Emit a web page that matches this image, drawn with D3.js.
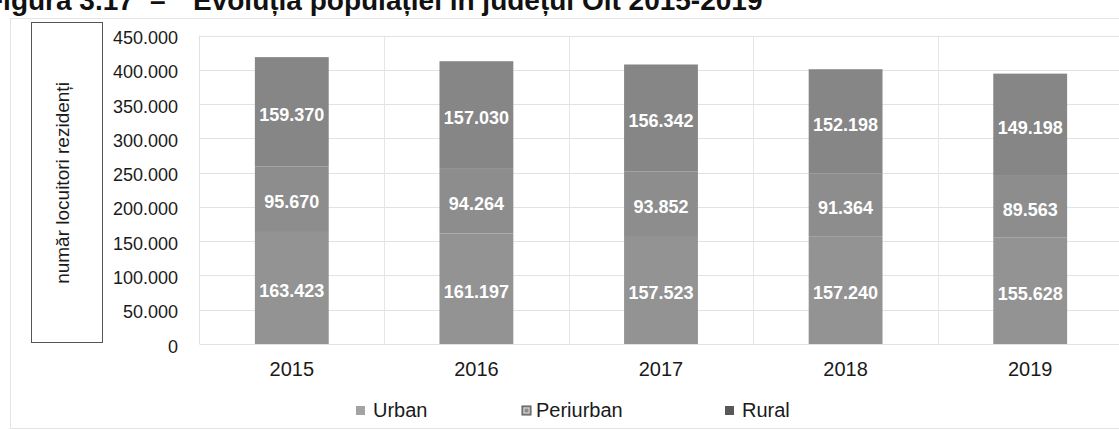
<!DOCTYPE html>
<html><head><meta charset="utf-8">
<script src="https://cdn.jsdelivr.net/npm/d3@7/dist/d3.min.js"></script>
<style>
html,body{margin:0;padding:0;background:#fff;}
svg{display:block;font-family:Arial,"Liberation Sans",sans-serif;}
</style></head>
<body>
<svg id="chart" width="1119" height="430"></svg>
<script>
const years = ["2015","2016","2017","2018","2019"];
const urban = [163423, 161197, 157523, 157240, 155628];
const periurban = [95670, 94264, 93852, 91364, 89563];
const rural = [159370, 157030, 156342, 152198, 149198];
const seriesNames = ["Urban","Periurban","Rural"];
const yTicks = [0,50000,100000,150000,200000,250000,300000,350000,400000,450000];

const svg = d3.select("#chart");
const W = 1119, H = 430;
const loc = d3.formatLocale({decimal:",", thousands:".", grouping:[3], currency:["",""]});
const fmt = loc.format(",");

const plotL = 199.5, plotR = 1122.5, y0 = 344, yTop = 35.5;
const x = d3.scaleBand().domain(years).range([plotL, plotR]).paddingInner(0.6).paddingOuter(0.3);
const y = d3.scaleLinear().domain([0,450000]).range([y0, yTop]);

// outer faint frame
svg.append("rect").attr("x",10.5).attr("y",18.5).attr("width",W).attr("height",410)
  .attr("fill","none").attr("stroke","#e4e4e4");

// title (partially cut at top, as in the scanned reference)
const title = svg.append("g").attr("font-weight","bold").attr("font-size",28).attr("fill","#111");
title.append("text").attr("x",-14).attr("y",10).text("Figura 3.17");
title.append("text").attr("x",150).attr("y",10).text("–");
title.append("text").attr("x",193).attr("y",10).text("Evoluția populației în județul Olt 2015-2019");

// gridlines
const grid = svg.append("g");
grid.selectAll("line.h").data(yTicks).join("line")
  .attr("x1",plotL).attr("x2",W).attr("y1",d=>Math.round(y(d))+0.5).attr("y2",d=>Math.round(y(d))+0.5)
  .attr("stroke","#e2e2e2");
const step = x.step();
grid.selectAll("line.v").data(years.slice(1)).join("line")
  .attr("x1",d=>Math.round(x(d)+x.bandwidth()/2-step/2)+0.5)
  .attr("x2",d=>Math.round(x(d)+x.bandwidth()/2-step/2)+0.5)
  .attr("y1",yTop).attr("y2",y0).attr("stroke","#e6e6e6");
grid.append("line").attr("x1",plotL).attr("x2",plotL).attr("y1",yTop).attr("y2",y0).attr("stroke","#e2e2e2");

// y axis labels
const yAxis = d3.axisLeft(y).tickValues(yTicks).tickFormat(fmt).tickSize(0).tickPadding(0);
const ya = svg.append("g").attr("transform","translate(178,0)").call(yAxis);
ya.select(".domain").remove();
ya.selectAll("text").attr("font-size",18).attr("fill","#1a1a1a").attr("font-family","Arial,'Liberation Sans',sans-serif").attr("dy","0.45em");

// x axis labels
const xAxis = d3.axisBottom(x).tickSize(0).tickPadding(0);
const xa = svg.append("g").attr("transform",`translate(0,${y0})`).call(xAxis);
xa.select(".domain").remove();
xa.selectAll("text").attr("font-size",20).attr("fill","#1a1a1a").attr("font-family","Arial,'Liberation Sans',sans-serif").attr("dy","1.6em");

// stacked bars
const rows = years.map((yr,i)=>({year:yr, Urban:urban[i], Periurban:periurban[i], Rural:rural[i]}));
const stack = d3.stack().keys(seriesNames)(rows);
const colors = {Urban:"#939393", Periurban:"#8d8d8d", Rural:"#868686"};
const layers = svg.append("g").selectAll("g").data(stack).join("g").attr("fill",d=>colors[d.key]);
layers.selectAll("rect").data(d=>d).join("rect")
  .attr("x",d=>x(d.data.year)).attr("width",x.bandwidth())
  .attr("y",d=>y(d[1])).attr("height",d=>y(d[0])-y(d[1]));

// value labels
const lab = svg.append("g").attr("fill","#fff").attr("font-size",18).attr("font-weight","bold").attr("text-anchor","middle");
stack.forEach(layer=>{
  lab.selectAll(null).data(layer).join("text")
    .attr("x",d=>x(d.data.year)+x.bandwidth()/2)
    .attr("y",d=>(y(d[0])+y(d[1]))/2+3)
    .attr("dy","0.35em")
    .text(d=>fmt(d[1]-d[0]));
});

// y title box
svg.append("rect").attr("x",31.5).attr("y",22.5).attr("width",71).attr("height",320)
  .attr("fill","none").attr("stroke","#555");
svg.append("text").attr("transform","translate(62,183) rotate(-90)")
  .attr("text-anchor","middle").attr("dy","0.35em").attr("font-size",19).attr("fill","#1a1a1a")
  .text("număr locuitori rezidenți");

// legend
const legendX = [356, 522, 725];
const legendFill = {Urban:"#a3a3a3", Periurban:"#8c8c8c", Rural:"#585858"};
const lg = svg.append("g").selectAll("g").data(seriesNames).join("g")
  .attr("transform",(d,i)=>`translate(${legendX[i]},0)`);
lg.append("rect").attr("x",0).attr("y",406).attr("width",9).attr("height",9)
  .attr("fill",d=>legendFill[d])
  .attr("stroke",d=>d==="Periurban"?"#555":"none").attr("stroke-width",1);
lg.filter(d=>d==="Periurban").append("rect").attr("x",2).attr("y",408).attr("width",5).attr("height",5)
  .attr("fill","none").attr("stroke","#ddd").attr("stroke-width",1);
lg.append("text").attr("x",d=>d==="Periurban"?14:17).attr("y",417).attr("font-size",20).attr("fill","#1a1a1a").text(d=>d);
</script>
</body></html>
